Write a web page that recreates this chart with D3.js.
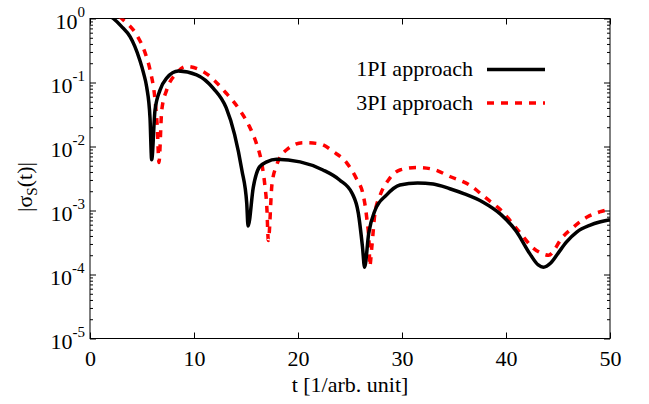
<!DOCTYPE html>
<html>
<head>
<meta charset="utf-8">
<script src="https://cdn.jsdelivr.net/npm/d3@7"></script>
<style>
  body { margin: 0; background: #fff; }
  text { font-family: "Liberation Serif", "Times New Roman", serif; fill: #000; }
</style>
</head>
<body>
<div id="chart"></div>
<script>
// time axis and |sigma_S(t)|
const t1PI = [1.5, 2.24, 3.0, 3.85, 4.3, 4.8, 5.15, 5.45, 5.77, 5.93, 6.25, 6.73, 7.37, 8.5, 10.25, 11.86, 13.1, 13.9, 14.6, 15.07, 15.2,
  15.7, 16.3, 17.0, 17.95, 20.2, 22.4, 24.0, 25.2, 25.8, 26.2, 26.4, 26.8, 27.4, 28.5, 29.8, 31.5, 33.0, 34.6, 36.0, 37.8,
  39.5, 41.0, 42.3, 43.1, 43.6, 44.3, 45.0, 45.8, 46.8, 48.1, 49.0, 50.0];
const s1PI = [1.2, 1.0, 0.76, 0.52, 0.37, 0.22, 0.14, 0.085, 0.028, 0.0062, 0.037, 0.076, 0.117, 0.151, 0.132, 0.081, 0.040, 0.0155, 0.0043, 0.0013, 0.00057,
  0.0023, 0.0048, 0.00575, 0.0063, 0.00575, 0.0043, 0.0030, 0.00186, 0.00091, 0.00027, 0.00013, 0.00044, 0.0010, 0.00174, 0.0025, 0.0027, 0.0026, 0.00219, 0.00182, 0.00135,
  0.00087, 0.00047, 0.00021, 0.000141, 0.00013, 0.000151, 0.000214, 0.00032, 0.00046, 0.00059, 0.00066, 0.00072];

const t3PI = [2.8, 3.2, 4.5, 5.3, 5.77, 6.25, 6.47, 6.63, 6.9, 7.37, 8.3, 9.2, 10.9, 13.1, 14.4, 15.3, 16.0, 16.5, 16.8, 17.0, 17.15,
  17.5, 17.95, 18.9, 20.5, 22.1, 23.4, 24.7, 25.6, 26.3, 26.6, 26.85, 26.9, 27.1, 27.4, 27.9, 28.7, 29.8, 31.5, 33.0, 34.6, 36.5, 38.0,
  39.4, 41.5, 42.6, 43.4, 44.1, 44.7, 45.2, 46.5, 47.8, 49.0, 50.0];
const s3PI = [1.08, 0.95, 0.55, 0.29, 0.158, 0.054, 0.020, 0.0056, 0.037, 0.076, 0.138, 0.178, 0.148, 0.068, 0.037, 0.021, 0.0112, 0.0056, 0.0026, 0.00115, 0.00034,
  0.0026, 0.0051, 0.0089, 0.0115, 0.011, 0.0083, 0.0055, 0.0032, 0.00166, 0.00079, 0.00027, 0.000135, 0.00027, 0.00091, 0.00174, 0.0030, 0.0043, 0.0047, 0.0044, 0.0034, 0.0025, 0.0016,
  0.00105, 0.00042, 0.00026, 0.000215, 0.00020, 0.00025, 0.00034, 0.00055, 0.00079, 0.00095, 0.00105];

const xTicks = [0, 10, 20, 30, 40, 50];
const yExps = [0, -1, -2, -3, -4, -5];
const seriesNames = ['1PI approach', '3PI approach'];

const width = 649, height = 404;
const margin = { left: 90, right: 39, top: 18.5, bottom: 65.5 };
const innerW = width - margin.left - margin.right;
const innerH = height - margin.top - margin.bottom;

const svg = d3.select('#chart').append('svg')
  .attr('width', width).attr('height', height);

const x = d3.scaleLinear().domain([0, 50]).range([margin.left, margin.left + innerW]);
const y = d3.scaleLog().domain([1e-5, 1]).range([margin.top + innerH, margin.top]);

// minor log ticks 2..9 in each decade
const yMinor = [];
yExps.slice(1).forEach(e => { for (let k = 2; k <= 9; k++) yMinor.push(k * Math.pow(10, e)); });
const yMajor = yExps.map(e => Math.pow(10, e));

const fontFam = '"Liberation Serif", "Times New Roman", serif';

// ticks on all four sides, pointing inwards
function tickAxis(axis, transform) {
  const g = svg.append('g').attr('transform', transform).call(axis);
  g.select('.domain').remove();
  g.selectAll('line').attr('stroke', '#000').attr('stroke-width', 1);
  return g;
}

const gx = tickAxis(d3.axisBottom(x).tickValues(xTicks).tickSize(-6).tickPadding(12),
  `translate(0,${margin.top + innerH})`);
gx.attr('font-family', fontFam).attr('font-size', 22);
gx.selectAll('text').attr('fill', '#000');

tickAxis(d3.axisTop(x).tickValues(xTicks).tickSize(-6).tickFormat(''), `translate(0,${margin.top})`);
tickAxis(d3.axisLeft(y).tickValues(yMajor).tickSize(-6).tickFormat(''), `translate(${margin.left},0)`);
tickAxis(d3.axisLeft(y).tickValues(yMinor).tickSize(-3).tickFormat(''), `translate(${margin.left},0)`);
tickAxis(d3.axisRight(y).tickValues(yMajor).tickSize(-6).tickFormat(''), `translate(${margin.left + innerW},0)`);
tickAxis(d3.axisRight(y).tickValues(yMinor).tickSize(-3).tickFormat(''), `translate(${margin.left + innerW},0)`);

// y tick labels 10^n, right edge a few px left of the axis
const yLab = svg.append('g').selectAll('text').data(yExps).enter().append('text')
  .attr('y', d => y(Math.pow(10, d)) + 10)
  .attr('font-size', 22);
yLab.append('tspan').text('10');
yLab.append('tspan').attr('dy', -12).attr('font-size', 15).text(d => d);
yLab.each(function () {
  const w = this.getBBox().width;
  d3.select(this).attr('x', margin.left - 5 - w);
});

// frame
svg.append('rect')
  .attr('x', margin.left).attr('y', margin.top)
  .attr('width', innerW).attr('height', innerH)
  .attr('fill', 'none').attr('stroke', '#000').attr('stroke-width', 1);

svg.append('clipPath').attr('id', 'plotClip').append('rect')
  .attr('x', margin.left).attr('y', margin.top)
  .attr('width', innerW).attr('height', innerH);

const line = d3.line().x(d => x(d[0])).y(d => y(d[1])).curve(d3.curveMonotoneX);

const data1 = t1PI.map((t, i) => [t, s1PI[i]]);
const data3 = t3PI.map((t, i) => [t, s3PI[i]]);

const plotG = svg.append('g').attr('clip-path', 'url(#plotClip)');
plotG.append('path').datum(data3)
  .attr('d', line).attr('fill', 'none')
  .attr('stroke', '#ff0000').attr('stroke-width', 3.5).attr('stroke-dasharray', '7,7');
plotG.append('path').datum(data1)
  .attr('d', line).attr('fill', 'none')
  .attr('stroke', '#000').attr('stroke-width', 3.5);

// legend
const legend = svg.append('g');
const legY = [69.5, 103];
seriesNames.forEach((name, i) => {
  legend.append('text').attr('x', 473).attr('y', legY[i] + 6.5)
    .attr('text-anchor', 'end').attr('font-size', 22).text(name);
  legend.append('line').attr('x1', 487).attr('x2', 545).attr('y1', legY[i]).attr('y2', legY[i])
    .attr('stroke', i === 0 ? '#000' : '#ff0000').attr('stroke-width', 3.5)
    .attr('stroke-dasharray', i === 0 ? null : '7,7');
});

// axis titles
svg.append('text').attr('x', margin.left + innerW / 2).attr('y', 392)
  .attr('text-anchor', 'middle').attr('font-size', 22).text('t [1/arb. unit]');

const yTitle = svg.append('text')
  .attr('transform', 'translate(32,187) rotate(-90)')
  .attr('text-anchor', 'middle').attr('font-size', 22);
yTitle.append('tspan').text('|σ');
yTitle.append('tspan').attr('font-size', 15).attr('dy', 5).text('S');
yTitle.append('tspan').attr('dy', -5).text('(t)|');
</script>
</body>
</html>
